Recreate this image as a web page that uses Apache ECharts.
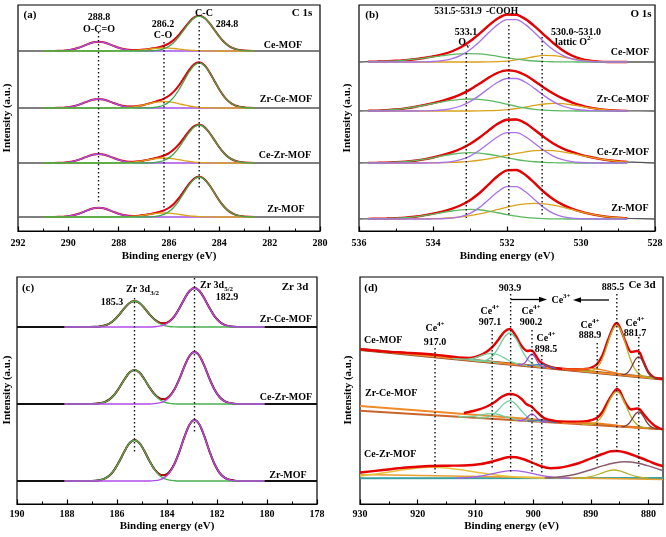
<!DOCTYPE html>
<html><head><meta charset="utf-8">
<script src="https://cdn.jsdelivr.net/npm/echarts@6/dist/echarts.min.js"></script>
<style>html,body{margin:0;padding:0;background:#fff}#c{width:666px;height:537px}</style>
</head><body><div id="c"></div>
<script>
const FF = '"Liberation Serif","Times New Roman",serif';
const sampleNames = ['Ce-MOF','Zr-Ce-MOF','Ce-Zr-MOF','Zr-MOF'];

// ---------- Panel (a) C 1s ----------
const aX = [291.0,290.8,290.6,290.4,290.2,290.0,289.8,289.6,289.4,289.2,289.0,288.8,288.6,288.4,288.2,288.0,287.8,287.6,287.4,287.2,287.0,286.8,286.6,286.4,286.2,286.0,285.8,285.6,285.4,285.2,285.0,284.8,284.6,284.4,284.2,284.0,283.8,283.6,283.4,283.2,283.0,282.8,282.6];
const aBase = [180,123,68,14];
const aOCO = [
 [0,0,.05,.14,.36,.86,1.8,3.2,5.1,7.1,8.7,9.3,8.7,7.1,5.1,3.2,1.8,.86,.36,.14,.05],
 [0,0,.05,.14,.35,.84,1.7,3.1,5,6.9,8.4,9,8.4,6.9,5,3.1,1.7,.84,.35,.14,.05],
 [0,0,.05,.14,.35,.84,1.7,3.1,5,6.9,8.4,9,8.4,6.9,5,3.1,1.7,.84,.35,.14,.05],
 [0,0,.05,.14,.36,.86,1.8,3.2,5.1,7.1,8.7,9.3,8.7,7.1,5.1,3.2,1.8,.86,.36,.14,.05]
];
const aCO = [
 [0,0,0,0,0,0,0,0,0,0,0,0,0,0,.03,.07,.14,.29,.55,.92,1.4,1.96,2.48,2.86,3,2.86,2.48,1.96,1.4,.92,.55,.29,.14,.07,.03],
 [0,0,0,0,0,0,0,0,0,0,0,0,0,0,.06,.14,.31,.64,1.19,2,3.05,4.24,5.38,6.2,6.5,6.2,5.38,4.24,3.05,2,1.19,.64,.31,.14,.06],
 [0,0,0,0,0,0,0,0,0,0,0,0,0,0,.05,.11,.24,.49,.91,1.53,2.35,3.27,4.14,4.77,5,4.77,4.14,3.27,2.35,1.53,.91,.49,.24,.11,.05],
 [0,0,0,0,0,0,0,0,0,0,0,0,0,0,.04,.09,.19,.39,.73,1.22,1.88,2.61,3.31,3.82,4,3.82,3.31,2.61,1.88,1.22,.73,.39,.19,.09,.04]
];
const aCC = [
 [0,0,0,0,0,0,0,0,0,0,0,0,0,0,0,0,0,0,0,0,0,.14,.39,.98,2.3,4.7,8.7,14.4,21.2,28,33.1,35,33.1,28,21.2,14.4,8.7,4.7,2.3,.98,.39,.14],
 [0,0,0,0,0,0,0,0,0,0,0,0,0,0,0,0,0,0,0,0,0,.18,.5,1.26,2.97,6.1,11.2,18.5,27.3,36,42.6,45,42.6,36,27.3,18.5,11.2,6.1,2.97,1.26,.5,.18],
 [0,0,0,0,0,0,0,0,0,0,0,0,0,0,0,0,0,0,0,0,0,.15,.42,1.06,2.5,5.1,9.5,15.6,23.1,30.4,35.9,38,35.9,30.4,23.1,15.6,9.5,5.1,2.5,1.06,.42,.15],
 [0,0,0,0,0,0,0,0,0,0,0,0,0,0,0,0,0,0,0,0,0,.16,.44,1.12,2.64,5.4,10,16.4,24.3,32,37.8,40,37.8,32,24.3,16.4,10,5.4,2.64,1.12,.44,.16]
];
const aDots = [[288.8,199,29],[286.2,189,21],[284.8,209,43]];

// ---------- Panel (b) O 1s ----------
const bX = [535.75,535.5,535.25,535.0,534.75,534.5,534.25,534.0,533.75,533.5,533.25,533.0,532.75,532.5,532.25,532.0,531.75,531.5,531.25,531.0,530.75,530.5,530.25,530.0,529.75,529.5,529.25,529.0,528.75];
const bBase = [169,120,68,12];
const bCOOH = [
 [0,0,0,0,0,0,.16,.5,1.3,3.1,6.6,12.3,20.1,29.2,37.4,42.4,42.4,37.4,29.2,20.1,12.3,6.6,3.1,1.3,.5,.16],
 [0,0,0,0,0,0,.12,.37,1.0,2.4,5.0,9.4,15.4,22.4,28.7,32.5,32.5,28.7,22.4,15.4,9.4,5.0,2.4,1.0,.37,.12],
 [0,0,0,0,0,0,0,.15,.48,1.4,3.3,6.9,12.5,19.5,26.3,30.4,30.4,26.3,19.5,12.5,6.9,3.3,1.4,.48,.15],
 [0,0,0,0,0,0,0,.06,.25,.84,2.4,5.7,11.4,19.2,27.2,32.3,32.3,27.2,19.2,11.4,5.7,2.4,.84,.25,.06]
];
const bOv = [
 [.3,.5,.8,1.2,1.9,2.8,3.9,5.1,6.3,7.4,8.1,8.4,8.05,7.06,5.7,4.2,2.85,1.77,1.0,.53,.25,.11,.05],
 [.2,.4,.8,1.5,2.6,4.0,5.7,7.5,9.2,10.6,11.6,12,11.7,10.6,8.9,6.8,4.7,3.0,1.7,.9,.4,.17,.06],
 [.1,.2,.4,.8,1.4,2.3,3.6,5.2,7.1,8.75,9.96,10.4,9.96,8.75,7.05,5.2,3.5,2.2,1.25,.66,.31,.14,.06],
 [.15,.3,.5,.8,1.3,2.2,3.4,4.9,6.5,8.0,9.2,9.7,9.23,7.98,6.25,4.44,2.86,1.67,.88,.43,.18,.07]
];
const bLat = [
 [0,0,0,0,0,0,0,0,0,0,0,0,0,.1,.33,.9,2.03,3.7,5.5,6.6,6.46,5.15,3.33,1.76,.75,.26,.07],
 [0,0,0,0,0,0,0,0,0,0,0,0,.1,.28,.66,1.37,2.5,4.0,5.65,7.0,7.68,7.39,6.26,4.67,3.07,1.77,.9,.4,.16],
 [0,0,0,0,0,0,.05,.13,.29,.56,1.01,1.72,2.75,4.12,5.82,7.7,9.59,11.2,12.3,12.7,12.3,11.2,9.59,7.7,5.82,4.12,2.75,1.72,1.01],
 [0,0,0,0,0,.07,.17,.36,.69,1.25,2.12,3.4,5.1,7.19,9.53,11.85,13.85,15.2,15.7,15.2,13.85,11.85,9.53,7.19,5.1,3.4,2.12,1.25,.69]
];
const bDots = [[533.1,178,13],[531.95,206,14],[531.05,194,14]];

// ---------- Panel (c) Zr 3d ----------
const cX = [188.1,187.9,187.7,187.5,187.3,187.1,186.9,186.7,186.5,186.3,186.1,185.9,185.7,185.5,185.3,185.1,184.9,184.7,184.5,184.3,184.1,183.9,183.7,183.5,183.3,183.1,182.9,182.7,182.5,182.3,182.1,181.9,181.7,181.5,181.3,181.1,180.9,180.7,180.5,180.3,180.1];
const cBase = [177,100,23];
const c32 = [
 [0,0,0,0,0,0,.16,.51,1.46,3.5,7.2,12.7,18.9,24,26,24,18.9,12.7,7.2,3.5,1.46,.51,.16],
 [0,0,0,0,0,0,.2,.67,1.9,4.6,9.5,16.6,24.7,31.4,34,31.4,24.7,16.6,9.5,4.6,1.9,.67,.2],
 [0,0,0,0,0,0,.25,.81,2.3,5.5,11.4,20,29.8,37.8,41,37.8,29.8,20,11.4,5.5,2.3,.81,.25]
];
const c52 = [
 [0,0,0,0,0,0,0,0,0,0,0,0,0,0,0,0,0,0,.23,.77,2.2,5.3,10.8,19,28.3,36,39,36,28.3,19,10.8,5.3,2.2,.77,.23],
 [0,0,0,0,0,0,0,0,0,0,0,0,0,0,0,0,0,0,.31,1.03,2.9,7.0,14.5,25.3,37.8,48,52,48,37.8,25.3,14.5,7.0,2.9,1.03,.31],
 [0,0,0,0,0,0,0,0,0,0,0,0,0,0,0,0,0,0,.37,1.2,3.4,8.2,17,29.7,44.3,56.3,61,56.3,44.3,29.7,17,8.2,3.4,1.2,.37]
];
const cDots = [[185.3,206,51],[182.9,226,71]];

// ---------- Panel (d) Ce 3d : [binding energy, intensity] ----------
const dCeBg = [[930,154.7],[877.5,125]];
const dCeEnv = [[930,154.7],[926,152.6],[922,151.3],[919,150.3],[917,149.4],[915,148],[913,146.5],[911,146],[910,147],[909,149.1],[908,152.5],[907,157.4],[906,164.6],[905,172.2],[904,175],[903,168],[902,158],[901,153],[900.5,153.5],[900,152.5],[899.5,148],[899,143.5],[898.5,141],[898,139.3],[897,137],[896,135.7],[895,135.1],[893,134.8],[891,135.1],[890,136.2],[889,139.5],[888,148.6],[887,164.5],[886,178.2],[885.5,181],[885,177],[884,162.5],[883,152],[882,153],[881.5,151],[881,144],[880,131.5],[879,126.3],[878,125.4],[877.5,125]];
const dCeMain = [[911,144],[910,143.5],[909,143.2],[908,144.2],[907,148.2],[906,156.6],[905,166.7],[904,171],[903,165.6],[902,154.4],[901,144.8],[900,139.7],[899,137.6],[898,136.6]];
const dCe907 = [[914,145.7],[913,145.2],[912,144.9],[911,145.2],[910,146.3],[909,148.3],[908,150.2],[907,150.7],[906,149],[905,146.1],[904,142.9],[903,140.6],[902,139.3],[901,138.4]];
const dCe900 = [[902.7,139.3],[902.2,139.2],[901.7,140],[901.2,142.8],[900.7,147.6],[900.2,150],[899.7,147],[899.2,141.7],[898.7,138.3],[898.2,137],[897.7,136.5]];
const dCe898 = [[901,138.4],[900,138.7],[899,139.8],[898.5,139.9],[898,139.2],[897,136.9],[896,135.6]];
const dCe917 = [[930,154.7],[925,152.3],[922,151.3],[919,150.3],[917,149.4],[915,148],[912,145.6],[909,143.2],[906,141.2]];
const dCe885 = [[891.5,132.9],[890.5,132.7],[889.5,134],[888.5,139.6],[888,145.4],[887.5,153],[887,162],[886.5,170.4],[886,176.4],[885.5,178.5],[885,175.8],[884.5,169.2],[884,160.3],[883.5,150.8],[883,142.6],[882.5,136.2],[882,132],[881.5,129.4],[881,127.9],[880,126.5],[879,125.8]];
const dCe881 = [[884.7,129.1],[884.2,129.5],[883.7,131],[883.2,134.5],[882.7,139.9],[882.2,145.1],[881.7,147.2],[881.2,144.5],[880.7,138.7],[880.2,132.8],[879.7,128.8],[879.2,126.7],[878.7,125.7],[878.2,125.4]];
const dCe889 = [[895,135.1],[893,134.8],[891,135.1],[890,135.3],[889,135],[888,134.1],[887,132.9],[885,130.2],[883,128.3],[881,127]];

const dZcBgLow = [[930,93.3],[877.5,74.7]];
const dZcBgUp = [[930,98],[877.5,74.7]];
const dZcEnv = [[912,91],[910,93.5],[908,97.5],[906.5,102.5],[905.5,107],[904.2,110],[903,109],[902,105],[901.2,100],[900.3,97.5],[899.5,93],[898.5,87.5],[897.5,84.5],[896,82.9],[894,82.3],[892,82.2],[890.5,83],[889,86],[888,92],[887,103],[886,112],[885.5,115],[885,113],[884,101],[883,94.5],[882,95.5],[881.5,94.5],[881,91],[880,84],[879,78.5],[878,75.5],[877.5,74.7]];
const dZcMain = [[910,86.2],[909,86.1],[908,86.7],[907,89.2],[906,94.4],[905,100.5],[904,103.3],[903,99.8],[902,93],[901,87.1],[900,83.9],[899,82.6],[898,82]];
const dZc907 = [[913,87.5],[912,87.1],[911,87.3],[910,87.9],[909,89.1],[908,90.2],[907,90.4],[906,89.5],[905,87.6],[904,85.8],[903,84.4],[902,83.6],[901,83]];
const dZc900 = [[902.7,83.5],[902.2,83.4],[901.7,83.9],[901.2,85.6],[900.7,88.5],[900.2,90.1],[899.7,88.3],[899.2,85],[898.7,82.9],[898.2,82.2],[897.7,81.9]];
const dZc898 = [[901,83],[900,83.1],[899,84.1],[898.5,84.1],[898,83.8],[897,82.2],[896,81.3]];
const dZc885 = [[891.5,79.7],[890.5,79.6],[889.5,80.4],[888.5,84.6],[888,88.7],[887.5,94.1],[887,100.5],[886.5,106.5],[886,110.8],[885.5,112.4],[885,110.5],[884.5,105.8],[884,99.4],[883.5,92.7],[883,86.9],[882.5,82.5],[882,79.5],[881.5,77.6],[881,76.6],[880,75.7]];
const dZc881 = [[884.7,77.4],[884.2,77.7],[883.7,79],[883.2,81.9],[882.7,86.3],[882.2,90.5],[881.7,92.2],[881.2,90.2],[880.7,85.6],[880.2,80.8],[879.7,77.7],[879.2,76],[878.7,75.3],[878.2,74.95]];
const dZc889 = [[895,81],[893,80.8],[891,81.2],[890,81.2],[889,81.1],[888,80.5],[887,79.8],[885,78],[883,76.7],[881,75.9]];

const dCzBase = [[930,25.7],[877.5,26]];
const dCzBg = [[930,29.5],[877.5,24.5]];
const dCzEnv = [[930,31.5],[926,34],[922,36.5],[918,38],[915,38.3],[912,38.5],[909,40],[907,42.5],[905,46],[904,47],[903,46.8],[901.5,44.5],[900,41],[898.5,37.5],[897,35.8],[895.5,36.2],[894,37.8],[892,41],[890,45.5],[888,50],[886.5,52.8],[885.5,53],[884,51.5],[882,47.5],[880,43],[878.5,39.5],[877.5,38]];
const dCz917 = [[930,27.9],[927.5,29.7],[925,31.9],[922.5,34.2],[920,36],[917.5,36.7],[915,36],[912.5,34.2],[910,31.9],[907.5,29.7],[905,27.9],[902.5,26.8],[900,26.2],[897.5,25.9]];
const dCz903 = [[913.5,25.8],[911.5,26.3],[909.5,27.5],[907.5,29.7],[905.5,32.2],[903.5,33.3],[901.5,32.2],[899.5,29.7],[897.5,27.5],[895.5,26.3],[893.5,25.8]];
const dCz884 = [[898,26.1],[896,26.8],[894,28.3],[892,30.8],[890,34.2],[888,38.1],[886,41.1],[884,42.3],[882,41.1],[880,38.1],[878,34.2],[877.5,33.3]];
const dCz886 = [[892,25.9],[891,26.3],[890,27.3],[889,29],[888,31.2],[887,33.2],[886,34],[885,33.2],[884,31.2],[883,29],[882,27.3],[881,26.3],[880,25.9]];
const dDots = [[917.0,156,31],[907.1,174,34],[903.9,210,32],[900.2,174,32],[898.5,149,30],[888.9,161,39],[885.5,210,52],[881.7,167,36]];
const dTicks = [880,890,900,910,920,930];
const dMinor = [885,895,905,915,925];

// ---------- build ----------
const series = [];
function line(g, data, color, width, z, extra) {
  return Object.assign({type:'line', xAxisIndex:g, yAxisIndex:g, data:data, symbol:'none', showSymbol:false,
    smooth:0.3, silent:true, animation:false, lineStyle:{color:color, width:width}, z:z}, extra || {});
}
function dots(g, arr) {
  arr.forEach(d => series.push(line(g, [[d[0], d[1]], [d[0], d[2]]], '#111', 1.4, 8,
    {smooth:false, lineStyle:{color:'#111', width:1.4, type:[1.4,2.6]}})));
}
function gaussPanel(g, xs, xMin, xMax, bases, comps, colors, o) {
  bases.forEach((b, s) => {
    const env = xs.map((x, i) => comps.reduce((acc, c) => acc + (c[s][i] || 0), 0));
    const envData = xs.map((x, i) => [x, b + env[i]]);
    series.push(line(g, [[xMax, b]].concat(envData).concat([[xMin, b]]), o.dataColor, o.dataWidth, 2));
    series.push(line(g, envData, o.envColor, o.envWidth, 3));
    comps.forEach((c, k) => series.push(line(g, xs.map((x, i) => [x, b + (c[s][i] || 0)]), colors[k], o.compWidth, 4 + k * 0.1)));
  });
}
gaussPanel(0, aX, 280, 292, aBase, [aOCO, aCO, aCC], ['#a452e6', '#d9a21b', '#3aa848'],
  {dataColor:'#555', dataWidth:1.3, envColor:'#e8000b', envWidth:2, compWidth:1.3});
dots(0, aDots);
gaussPanel(1, bX, 528, 536, bBase, [bLat, bOv, bCOOH], ['#d9a21b', '#5cb860', '#a872e8'],
  {dataColor:'#555', dataWidth:1.3, envColor:'#e60000', envWidth:2.4, compWidth:1.3});
dots(1, bDots);
gaussPanel(2, cX, 178, 190, cBase, [c32, c52], ['#4caf50', '#b04de8'],
  {dataColor:'#111', dataWidth:2.0, envColor:'#e60000', envWidth:1.5, compWidth:1.3});
dots(2, cDots);

const sm = {smooth:0.3};
// Ce-MOF
series.push(line(3, dCeBg, '#8b4a2b', 3.2, 2, {smooth:false}));
series.push(line(3, dCeBg, '#f08a2a', 2, 2.1, {smooth:false}));
series.push(line(3, dCe917, '#6fcf9f', 1.2, 3, sm));
series.push(line(3, dCeEnv, '#e60000', 2.4, 5, sm));
series.push(line(3, dCe907, '#6fcf9f', 1.3, 6, sm));
series.push(line(3, dCeMain, '#6fcf9f', 1.3, 6, sm));
series.push(line(3, dCe900, '#9b4ee0', 1.3, 6, sm));
series.push(line(3, dCe898, '#4a6fc0', 1.1, 6, sm));
series.push(line(3, dCe889, '#ee7d20', 1.3, 6, sm));
series.push(line(3, dCe885, '#b5b02a', 1.3, 6, sm));
series.push(line(3, dCe881, '#7a3b3b', 1.3, 6, sm));
// Zr-Ce-MOF
series.push(line(3, dZcBgUp, '#f08a2a', 2, 2, {smooth:false}));
series.push(line(3, dZcBgLow, '#c9652a', 2, 2, {smooth:false}));
series.push(line(3, dZcEnv, '#e60000', 2.4, 5, sm));
series.push(line(3, dZc907, '#6fcf9f', 1.3, 6, sm));
series.push(line(3, dZcMain, '#6fcf9f', 1.3, 6, sm));
series.push(line(3, dZc900, '#9b4ee0', 1.3, 6, sm));
series.push(line(3, dZc898, '#4a6fc0', 1.1, 6, sm));
series.push(line(3, dZc889, '#ee7d20', 1.3, 6, sm));
series.push(line(3, dZc885, '#b5b02a', 1.3, 6, sm));
series.push(line(3, dZc881, '#7a3b3b', 1.3, 6, sm));
// Ce-Zr-MOF
series.push(line(3, dCzBase, '#3aa0a0', 2, 2, {smooth:false}));
series.push(line(3, dCzBg, '#e8a030', 1.6, 2.1, {smooth:false}));
series.push(line(3, dCz917, '#e6c23a', 1.5, 3, sm));
series.push(line(3, dCz903, '#a060e0', 1.3, 3, sm));
series.push(line(3, dCz884, '#8a5a6a', 1.5, 3, sm));
series.push(line(3, dCz886, '#b5b02a', 1.3, 3, sm));
series.push(line(3, dCzEnv, '#e60000', 2.4, 5, sm));
dots(3, dDots);

// ---------- axes ----------
const lab = {color:'#000', fontFamily:FF, fontWeight:'bold', fontSize:10};
function xAx(g, min, max, interval, margin, gap) {
  return {gridIndex:g, type:'value', min:min, max:max, interval:interval, inverse:true, position:'bottom',
    axisLine:{show:true, onZero:false, lineStyle:{color:'#000', width:1.2}},
    axisTick:{show:true, inside:true, length:4.5, lineStyle:{color:'#000', width:1.2}},
    minorTick:{show:true, splitNumber:2, length:2.5, lineStyle:{color:'#000', width:1}},
    axisLabel:Object.assign({margin:margin, showMinLabel:true, showMaxLabel:true}, lab),
    splitLine:{show:false}, minorSplitLine:{show:false},
    name:'Binding energy (eV)', nameLocation:'middle', nameGap:gap,
    nameTextStyle:{color:'#000', fontFamily:FF, fontWeight:'bold', fontSize:11}};
}
const xAxes = [xAx(0, 280, 292, 2, 7, 20), xAx(1, 528, 536, 2, 7, 20), xAx(2, 178, 190, 2, 5, 17)];
const xd = xAx(3, 877.5, 930, null, 5, 17);
delete xd.interval;
xd.minorTick = {show:false};
xd.axisLabel.customValues = dTicks;
xd.axisTick.customValues = dTicks;
xAxes.push(xd);
xAxes.push({gridIndex:3, type:'value', min:877.5, max:930, inverse:true, position:'bottom',
  axisLine:{show:false}, axisLabel:{show:false}, splitLine:{show:false},
  axisTick:{show:true, inside:true, length:2.5, customValues:dMinor, lineStyle:{color:'#000', width:1}}});
function yAx(g, max) {
  return {gridIndex:g, type:'value', min:0, max:max, show:false};
}
const grids = [
  {left:18, top:5, width:302, height:226},
  {left:359, top:5, width:296, height:226},
  {left:17, top:277, width:300, height:227},
  {left:360, top:277, width:303, height:227}
].map(g => Object.assign({show:true, borderColor:'#000', borderWidth:1.2, backgroundColor:'rgba(0,0,0,0)'}, g));

// ---------- text ----------
const gr = [];
function t(x, y, text, size, align, extra) {
  gr.push(Object.assign({type:'text', x:x, y:y, z:100, silent:true,
    style:{text:text, fill:'#000', font:'bold ' + (size || 10) + 'px ' + FF,
      align:align || 'center', verticalAlign:'middle', textAlign:align || 'center', textVerticalAlign:'middle'}}, extra || {}));
}
function rt(x, y, main, small, mode, size, align) {
  const s = size || 10;
  gr.push({type:'text', x:x, y:y, z:100, silent:true,
    style:{text:'{n|' + main + '}{s|' + small + '}', align:align || 'center', verticalAlign:'middle',
      textAlign:align || 'center', textVerticalAlign:'middle', fill:'#000',
      rich:{n:{fontSize:s, fontWeight:'bold', fontFamily:FF, lineHeight:s + 5, verticalAlign:'middle', fill:'#000'},
            s:{fontSize:s - 3, fontWeight:'bold', fontFamily:FF, verticalAlign:mode, fill:'#000'}}}});
}
// y titles
[[7,118],[347,118],[7,390],[348,390]].forEach(p => t(p[0], p[1], 'Intensity (a.u.)', 11, 'center', {rotation:Math.PI / 2}));
// (a)
t(30, 15, '(a)', 11); t(302, 13, 'C 1s', 11);
t(99, 17, '288.8'); t(99, 29, 'O-C=O');
t(163, 24, '286.2'); t(163, 35, 'C-O');
t(204, 13, 'C-C'); t(227, 24, '284.8');
t(283, 45, sampleNames[0]); t(286, 99, sampleNames[1]); t(285, 155, sampleNames[2]); t(286, 209, sampleNames[3]);
// (b)
t(372, 15, '(b)', 11); t(641, 14, 'O 1s', 11);
t(458, 12, '531.5~531.9', 9.5); t(502, 12, '-COOH', 9.5);
t(466, 32, '533.1'); rt(464, 42, 'O', 'v', 'bottom');
t(576, 32, '530.0~531.0'); rt(574, 42, 'lattic O', '2-', 'top');
t(630, 52, sampleNames[0]); t(623, 99, sampleNames[1]); t(623, 152, sampleNames[2]); t(630, 208, sampleNames[3]);
// (c)
t(28, 288, '(c)', 11); t(295, 287, 'Zr 3d', 11);
rt(126, 289, 'Zr 3d', '3/2', 'bottom', 10, 'left'); t(112, 302, '185.3');
rt(200, 285, 'Zr 3d', '5/2', 'bottom', 10, 'left'); t(227, 297, '182.9');
t(286, 319, sampleNames[1]); t(286, 397, sampleNames[2]); t(288, 475, sampleNames[3]);
// (d)
t(371, 288, '(d)', 11); t(642, 285, 'Ce 3d', 11);
t(510, 288, '903.9'); t(613, 287, '885.5');
rt(561, 300, 'Ce', '3+', 'top');
[[435,328,342,'917.0'],[490,311,322,'907.1'],[531,311,322,'900.2'],[546,338,349,'898.5'],[590,325,335,'888.9'],[635,323,333,'881.7']]
  .forEach(p => { rt(p[0], p[1], 'Ce', '4+', 'top'); t(p[0], p[2], p[3]); });
t(364, 340, sampleNames[0], 10, 'left'); t(365, 393, sampleNames[1], 10, 'left'); t(364, 454, sampleNames[2], 10, 'left');
// arrows
gr.push({type:'line', z:100, silent:true, shape:{x1:511, y1:299.5, x2:541, y2:299.5}, style:{stroke:'#000', lineWidth:1.3}});
gr.push({type:'polygon', z:100, silent:true, shape:{points:[[547,299.5],[539,296.8],[539,302.2]]}, style:{fill:'#000'}});
gr.push({type:'line', z:100, silent:true, shape:{x1:609, y1:300, x2:579, y2:300}, style:{stroke:'#000', lineWidth:1.3}});
gr.push({type:'polygon', z:100, silent:true, shape:{points:[[573,300],[581,297.3],[581,302.7]]}, style:{fill:'#000'}});

const chart = echarts.init(document.getElementById('c'), null, {renderer:'canvas'});
chart.setOption({
  animation:false,
  backgroundColor:'#fff',
  grid:grids,
  xAxis:xAxes,
  yAxis:[yAx(0,226), yAx(1,226), yAx(2,227), yAx(3,227)],
  series:series,
  graphic:{elements:gr}
});
</script></body></html>
